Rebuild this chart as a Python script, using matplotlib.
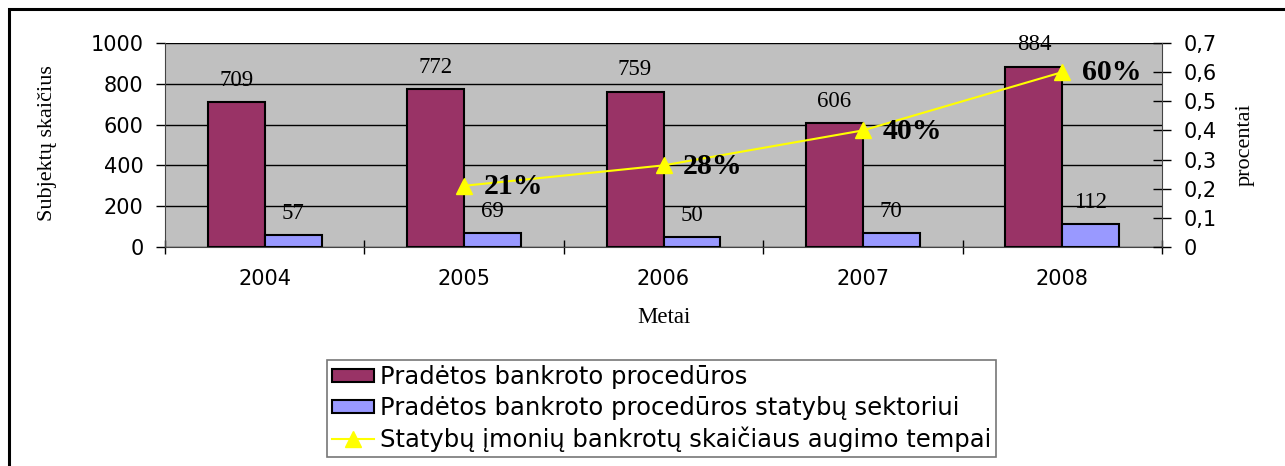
import matplotlib
matplotlib.use("Agg")
import matplotlib.pyplot as plt
from matplotlib.patches import Rectangle
from matplotlib.ticker import FixedLocator, FuncFormatter

years = ["2004", "2005", "2006", "2007", "2008"]
all_proc = [709, 772, 759, 606, 884]
constr_proc = [57, 69, 50, 70, 112]
growth_years = ["2005", "2006", "2007", "2008"]
growth = [0.21, 0.28, 0.40, 0.60]
growth_labels = ["21%", "28%", "40%", "60%"]

SANS = "DejaVu Sans"
SERIF = "Liberation Serif"

fig = plt.figure(figsize=(12.85, 4.66), dpi=100)
ax = fig.add_axes([0.1284, 0.470, 0.7759, 0.4378])
ax.set_facecolor("#c0c0c0")

x = list(range(len(years)))
w = 0.285
b1 = ax.bar(x, all_proc, width=-w, align="edge", color="#993366",
            edgecolor="black", linewidth=1.5, zorder=3,
            label="Pradėtos bankroto procedūros")
b2 = ax.bar(x, constr_proc, width=w, align="edge", color="#9999ff",
            edgecolor="black", linewidth=1.5, zorder=3,
            label="Pradėtos bankroto procedūros statybų sektoriui")

for xi, v in zip(x, all_proc):
    ax.annotate(str(v), (xi - w / 2, v), xytext=(0, 16), textcoords="offset points",
                ha="center", va="center", fontsize=16.5, family=SERIF, zorder=5)
for xi, v in zip(x, constr_proc):
    ax.annotate(str(v), (xi + w / 2, v), xytext=(0, 15.5), textcoords="offset points",
                ha="center", va="center", fontsize=16.5, family=SERIF, zorder=5)

ax.set_xlim(-0.5, len(years) - 0.5)
ax.set_ylim(0, 1000)
ax.set_yticks([0, 200, 400, 600, 800, 1000])
ax.yaxis.grid(True, color="black", linewidth=1)
ax.set_axisbelow(True)
ax.set_xticks(x)
ax.set_xticklabels(years)
ax.xaxis.set_minor_locator(FixedLocator([i - 0.5 for i in range(len(years) + 1)]))
ax.tick_params(axis="x", which="major", length=0, pad=16)
ax.tick_params(axis="x", which="minor", length=9.5, width=1, direction="inout")
ax.tick_params(axis="y", length=6.5, width=1, direction="out", pad=9)
for lab in ax.get_xticklabels() + ax.get_yticklabels():
    lab.set_family(SANS)
    lab.set_fontsize(15)
for s in ["top", "right"]:
    ax.spines[s].set_visible(False)
ax.spines["left"].set_color("#444444")
ax.spines["bottom"].set_color("#444444")

ax2 = ax.twinx()
gx = [years.index(g) for g in growth_years]
ln, = ax2.plot(gx, growth, color="#ffff00", linewidth=1.5, marker="^",
               markersize=11, markerfacecolor="#ffff00", markeredgecolor="#ffff00",
               zorder=6, label="Statybų įmonių bankrotų skaičiaus augimo tempai")
for xi, v, t in zip(gx, growth, growth_labels):
    ax2.annotate(t, (xi, v), xytext=(14, -0.5), textcoords="offset points",
                 ha="left", va="center", fontsize=21.5, fontweight="bold",
                 family=SERIF, zorder=7)
ax2.set_ylim(0, 0.7)
ax2.set_yticks([i / 10 for i in range(8)])
ax2.yaxis.set_major_formatter(FuncFormatter(lambda v, p: "0" if v == 0 else f"{v:.1f}".replace(".", ",")))
ax2.tick_params(axis="y", length=13, width=1, direction="inout", pad=9)
for lab in ax2.get_yticklabels():
    lab.set_family(SANS)
    lab.set_fontsize(15)
for s in ["top", "left", "bottom"]:
    ax2.spines[s].set_visible(False)
ax2.spines["right"].set_color("#444444")

fig.text(0.037, 0.693, "Subjektų skaičius", rotation=90, ha="center", va="center",
         fontsize=16, family=SERIF)
fig.text(0.969, 0.69, "procentai", rotation=90, ha="center", va="center",
         fontsize=16, family=SERIF)
fig.text(0.517, 0.318, "Metai", ha="center", va="center", fontsize=16.5, family=SERIF)

leg = fig.legend(handles=[b1, b2, ln], loc="center", bbox_to_anchor=(0.5148, 0.1235),
                 prop={"family": SANS, "size": 17.5}, frameon=True, fancybox=False,
                 edgecolor="#555555", handlelength=1.75, handleheight=0.45,
                 labelspacing=0.28, borderpad=0.2, handletextpad=0.25,
                 borderaxespad=0)
leg.get_frame().set_linewidth(1.2)

fig.patches.append(Rectangle((9 / 1285, -0.05), 1.1, 1.05 - 9 / 466,
                             transform=fig.transFigure, fill=False,
                             edgecolor="black", linewidth=2.2))

fig.savefig("out.png", dpi=100)
